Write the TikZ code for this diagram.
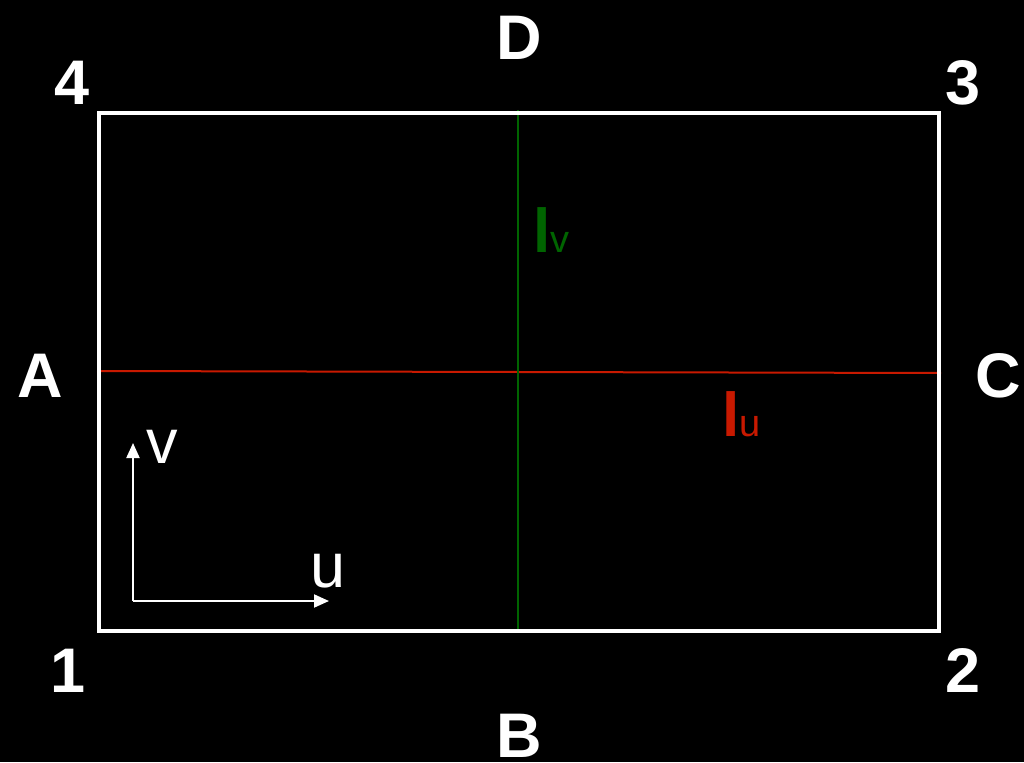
\documentclass[tikz,border=0pt]{standalone}
\usepackage{fontspec}
\setmainfont{Liberation Sans}
\usetikzlibrary{arrows.meta}
\definecolor{lred}{RGB}{200,25,0}
\definecolor{lgreen}{RGB}{0,100,0}
\begin{document}
\begin{tikzpicture}[x=1pt,y=-1pt,
  corner/.style={text=white,font=\fontsize{63}{70}\selectfont\bfseries,inner sep=0pt,anchor=base},
  axlabel/.style={text=white,font=\fontsize{63}{70}\selectfont,inner sep=0pt},
  lenlabel/.style={inner sep=0pt,anchor=base west},
  axis/.style={white,line width=2pt,-{Triangle[length=15pt,width=13pt]}}]
\useasboundingbox[fill=black] (0,0) rectangle (1024,762);
% frame corners
\coordinate (c1) at (99,631);
\coordinate (c2) at (939,631);
\coordinate (c3) at (939,113);
\coordinate (c4) at (99,113);
\coordinate (ma) at (97,371);
\coordinate (mc) at (941,373);
\coordinate (md) at (518,110);
\coordinate (mb) at (518,633);
\draw[lred,line width=2pt] (ma) -- (mc);
\draw[lgreen,line width=2pt] (md) -- (mb);
\draw[white,line width=4pt] (c1) -- (c2) -- (c3) -- (c4) -- cycle;
% labels
\node[corner] (D) at (519,60) {D};
\node[corner] (B) at (519,757) {B};
\node[corner] (A) at (40,397) {A};
\node[corner] (C) at (998,397) {C};
\node[corner] (n4) at (72,105) {4};
\node[corner] (n3) at (963,105) {3};
\node[corner] (n1) at (68,692) {1};
\node[corner] (n2) at (963,692) {2};
% lengths
\node[lenlabel,text=lgreen] (lv) at (533,252)
  {\fontsize{62}{62}\selectfont\bfseries l\fontsize{38}{38}\selectfont\mdseries v};
\node[lenlabel,text=lred] (lu) at (722,436)
  {\fontsize{62}{62}\selectfont\bfseries l\fontsize{38}{38}\selectfont\mdseries u};
% axes
\coordinate (o) at (133,601);
\coordinate (vt) at (133,443);
\coordinate (ut) at (329,601);
\draw[axis] (o) -- (vt);
\draw[axis] (o) -- (ut);
\node[axlabel,anchor=base west] (v) at (146,463) {v};
\node[axlabel,anchor=base west] (u) at (310,587) {u};
\end{tikzpicture}
\end{document}
